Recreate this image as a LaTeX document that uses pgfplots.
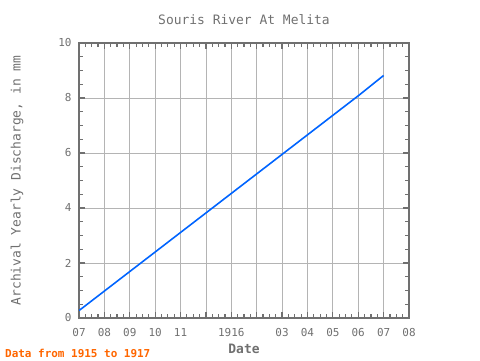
\documentclass[border=0pt]{standalone}
\usepackage{pgfplots}
\pgfplotsset{compat=1.18}
\usepackage{fontspec}
\setmainfont{DejaVu Sans Mono}
\definecolor{axgray}{RGB}{112,112,112}
\definecolor{gridgray}{RGB}{180,180,180}
\definecolor{lineblue}{RGB}{0,100,255}
\definecolor{foot}{RGB}{255,102,0}
\begin{document}
\begin{tikzpicture}[x=1bp,y=1bp]
\path (0,0) rectangle (480,360);
\begin{axis}[
  at={(79bp,42bp)}, anchor=south west,
  scale only axis, width=330bp, height=275bp,
  xmin=0, xmax=13, ymin=0, ymax=10,
  xtick={0,...,13},
  xticklabels={07,08,09,10,11,,1916,,03,04,05,06,07,08},
  ytick={0,2,4,6,8,10},
  minor x tick num=3, minor y tick num=3,
  tick align=inside,
  major tick length=6bp, minor tick length=4bp,
  grid=major,
  major grid style={gridgray, line width=0.8pt},
  axis line style={axgray, line width=1.6pt},
  every tick/.style={axgray, line width=1.2pt},
  tick label style={text=axgray, font=\fontsize{11}{12}\selectfont},
  /pgf/number format/assume math mode=true,
  xticklabel style={yshift=-7bp},
  yticklabel style={xshift=-4bp},
  xlabel={\textbf{Date}},
  xlabel style={text=axgray, font=\fontsize{13}{14}\selectfont, yshift=0bp},
  ylabel={Archival Yearly Discharge, in mm},
  ylabel style={text=axgray, font=\fontsize{13}{14}\selectfont, yshift=28bp},
  title={Souris River At Melita},
  title style={text=axgray, font=\fontsize{13}{14}\selectfont, yshift=9bp},
]
\addplot[lineblue, line width=1.6pt] coordinates {
(0,0.27) (1,0.98) (2,1.69) (3,2.40) (4,3.11) (5,3.82) (6,4.53) (7,5.24) (8,5.95) (9,6.66) (10,7.37) (11,8.08) (12,8.82)
};
\end{axis}
\node[anchor=base west, text=foot, font=\fontsize{11}{12}\selectfont\bfseries, inner sep=0] at (5,3) {Data from 1915 to 1917};
\end{tikzpicture}
\end{document}
